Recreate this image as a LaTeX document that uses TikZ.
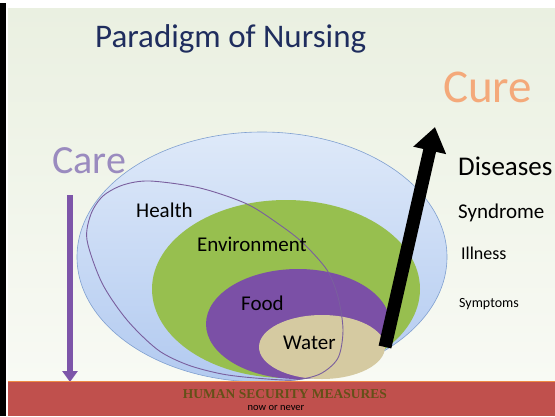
\documentclass[tikz,border=0pt]{standalone}
\usepackage{fontspec}
\setmainfont{Carlito}
\newfontfamily\bandfont{Liberation Serif}
\usetikzlibrary{arrows.meta}

\definecolor{titleblue}{RGB}{31,45,94}
\definecolor{cureorange}{RGB}{244,169,122}
\definecolor{carelilac}{RGB}{154,139,191}
\definecolor{carearrow}{RGB}{125,85,169}
\definecolor{skytop}{RGB}{222,233,249}
\definecolor{skybottom}{RGB}{178,202,240}
\definecolor{skyedge}{RGB}{128,160,208}
\definecolor{envgreen}{RGB}{151,191,79}
\definecolor{foodpurple}{RGB}{123,80,166}
\definecolor{watertan}{RGB}{213,202,161}
\definecolor{healthline}{RGB}{122,95,158}
\definecolor{bandred}{RGB}{192,80,77}
\definecolor{bandline}{RGB}{238,138,69}
\definecolor{bandtext}{RGB}{100,80,24}
\definecolor{bgtop}{RGB}{234,240,225}
\definecolor{bgbottom}{RGB}{248,250,244}

\begin{document}
\begin{tikzpicture}[x=1pt, y=-1pt,
  lbl/.style={anchor=base west, inner sep=0pt, font=\fontsize{21}{24}\selectfont},
  sign/.style={anchor=base west, inner sep=0pt}]
\useasboundingbox (0,0) rectangle (555,416);
\fill[white] (0,0) rectangle (555,416);
\shade[top color=bgtop, bottom color=bgbottom] (8,8) rectangle (555,381);
\fill[black] (0,3) rectangle (6,416);

\path[shade, top color=skytop, bottom color=skybottom, draw=skyedge, line width=0.6pt]
  (262,257) ellipse [x radius=185pt, y radius=125pt];
\fill[envgreen] (286,289) ellipse [x radius=134pt, y radius=89pt];
\fill[foodpurple] (298,324) ellipse [x radius=92pt, y radius=55pt];
\fill[watertan] (322,347) ellipse [x radius=63pt, y radius=32pt];
\draw[healthline, line width=0.9pt] plot[smooth cycle] coordinates {
  (87,240) (91,214) (103,196) (123,185) (150,181) (200,188) (247,204) (280,225)
  (303,243) (327,270) (338,297) (343,330) (338,358) (320,374) (293,380) (255,378)
  (222,374) (188,365) (158,350) (127,320) (102,283)};

\coordinate (cureFoot) at (385,347);
\coordinate (cureTip) at (435,127);
\draw[line width=13pt, -{Triangle[length=24pt, width=32pt]}] (cureFoot) -- (cureTip);

\coordinate (careTop) at (70,195);
\coordinate (careFoot) at (70,382);
\draw[carearrow, line width=6pt, -{Triangle[length=11pt, width=15pt]}] (careTop) -- (careFoot);

\fill[bandred] (8,381) rectangle (555,416);
\draw[bandline, line width=1.5pt] (8,381.5) -- (555,381.5);

\node[sign, titleblue, font=\fontsize{33}{36}\selectfont] (title) at (95,47) {Paradigm of Nursing};
\node[sign, cureorange, font=\fontsize{47}{50}\selectfont] (cure) at (443,102) {Cure};
\node[sign, carelilac, font=\fontsize{40}{44}\selectfont] (care) at (52,173) {Care};

\node[sign, font=\fontsize{27}{30}\selectfont] (diseases) at (458,175) {Diseases};
\node[sign, font=\fontsize{21}{24}\selectfont] (syndrome) at (458,218) {Syndrome};
\node[sign, font=\fontsize{18}{21}\selectfont] (illness) at (461,259) {Illness};
\node[sign, font=\fontsize{14}{16}\selectfont] (symptoms) at (459,307) {Symptoms};

\node[lbl] (health) at (136,217) {Health};
\node[lbl] (environment) at (197,251) {Environment};
\node[lbl] (food) at (241,310) {Food};
\node[lbl] (water) at (283,349) {Water};

\node[inner sep=0pt, bandtext, font=\bandfont\bfseries\fontsize{13.5}{15}\selectfont] (measures) at (285,394) {HUMAN SECURITY MEASURES};
\node[inner sep=0pt, font=\fontsize{10.5}{12}\selectfont] (never) at (276,408) {now or never};
\end{tikzpicture}
\end{document}
